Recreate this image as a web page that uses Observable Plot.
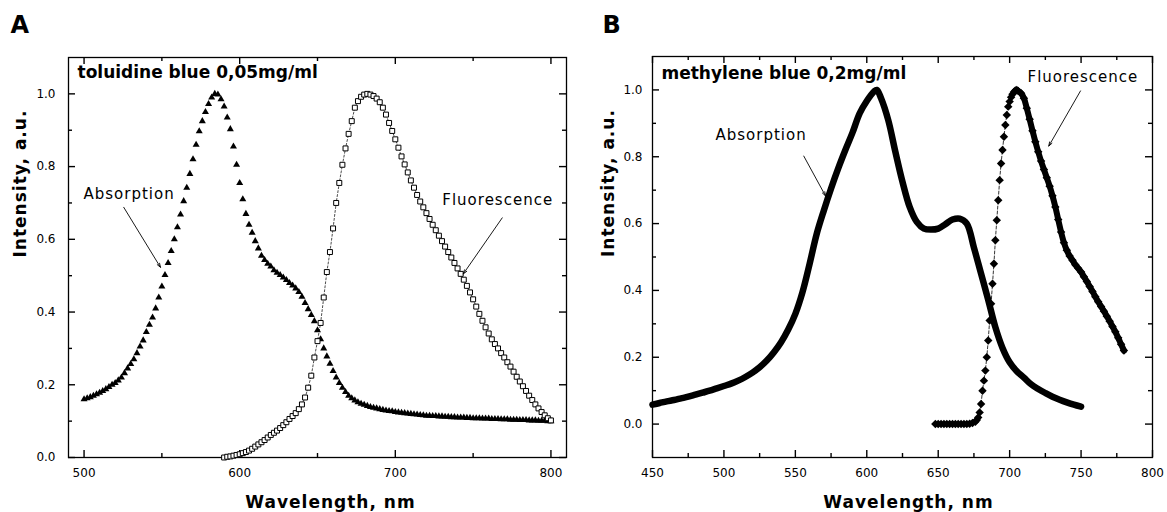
<!DOCTYPE html>
<html><head><meta charset="utf-8">
<script src="https://cdn.jsdelivr.net/npm/d3@7"></script>
<script src="https://cdn.jsdelivr.net/npm/@observablehq/plot@0.6"></script>
<style>
body{margin:0;background:#fff;}
#wrap{position:relative;width:1167px;height:512px;overflow:hidden;background:#fff;}
#pa{position:absolute;left:0;top:0;}
#pb{position:absolute;left:580px;top:0;}
</style></head><body>
<div id="wrap"><div id="pa"></div><div id="pb"></div></div>
<script>
// ---------- Panel A: toluidine blue ----------
const absA_nm = d3.range(500, 801, 2);
const absA = [
0.160,0.163,0.166,0.170,0.174,0.178,0.183,0.188,0.194,0.200,
0.205,0.212,0.220,0.232,0.245,0.257,0.270,0.287,0.305,0.322,
0.345,0.365,0.385,0.410,0.440,0.470,0.502,0.535,0.568,0.600,
0.633,0.668,0.705,0.742,0.780,0.820,0.860,0.897,0.925,0.950,
0.972,0.990,1.000,0.998,0.985,0.965,0.935,0.903,0.855,0.805,
0.755,0.710,0.670,0.640,0.618,0.595,0.575,0.555,0.543,0.533,
0.525,0.515,0.508,0.502,0.495,0.488,0.480,0.473,0.465,0.455,
0.442,0.425,0.408,0.392,0.375,0.350,0.325,0.300,0.278,0.258,
0.238,0.220,0.205,0.192,0.180,0.170,0.163,0.157,0.152,0.148,
0.145,0.142,0.139,0.137,0.135,0.133,0.131,0.129,0.128,0.127,
0.125,0.124,0.123,0.122,0.121,0.120,0.119,0.118,0.117,0.116,
0.115,0.115,0.114,0.114,0.113,0.113,0.112,0.112,0.111,0.111,
0.110,0.110,0.110,0.109,0.109,0.108,0.108,0.108,0.107,0.107,
0.107,0.106,0.106,0.106,0.105,0.105,0.105,0.104,0.104,0.104,
0.103,0.103,0.103,0.102,0.102,0.102,0.101,0.101,0.101,0.100,
0.100];
const fluA_nm = d3.range(590, 801, 2);
const fluA = [
0.000,0.002,0.003,0.005,0.007,0.009,0.012,0.015,0.019,0.024,
0.030,0.036,0.042,0.048,0.055,0.062,0.068,0.074,0.081,0.089,
0.097,0.106,0.114,0.122,0.133,0.146,0.165,0.192,0.225,0.275,
0.320,0.370,0.440,0.510,0.565,0.630,0.700,0.755,0.805,0.850,
0.890,0.925,0.962,0.980,0.992,0.998,1.000,0.998,0.994,0.987,
0.977,0.962,0.943,0.920,0.898,0.875,0.852,0.828,0.806,0.784,
0.762,0.742,0.722,0.704,0.688,0.672,0.656,0.640,0.625,0.610,
0.595,0.580,0.565,0.550,0.535,0.520,0.505,0.489,0.472,0.454,
0.435,0.415,0.395,0.376,0.358,0.341,0.325,0.312,0.300,0.287,
0.275,0.262,0.250,0.236,0.222,0.209,0.196,0.183,0.170,0.158,
0.146,0.135,0.125,0.116,0.108,
0.102];

// ---------- Panel B: methylene blue ----------
const absB = [
[450,0.058],[455,0.063],[460,0.068],[465,0.072],[470,0.077],[475,0.082],[480,0.088],[485,0.094],
[490,0.100],[495,0.107],[500,0.114],[505,0.121],[510,0.130],[515,0.141],[520,0.154],[525,0.170],
[530,0.190],[535,0.215],[540,0.245],[545,0.283],[550,0.330],[555,0.395],[560,0.480],[565,0.570],
[570,0.640],[575,0.705],[580,0.765],[585,0.820],[590,0.872],[595,0.930],[600,0.967],[605,0.995],
[607,1.000],[610,0.975],[615,0.910],[620,0.815],[625,0.725],[630,0.650],[635,0.605],[640,0.585],
[645,0.582],[650,0.585],[655,0.598],[660,0.612],[665,0.615],[670,0.600],[675,0.528],[680,0.450],
[685,0.372],[690,0.290],[695,0.228],[700,0.185],[705,0.158],[710,0.139],[715,0.119],[720,0.105],
[725,0.093],[730,0.082],[735,0.073],[740,0.065],[745,0.058],[750,0.052]];
const fluB = [
[648,0],[650,0],[652,0],[654,0],[656,0],[658,0],[660,0],[662,0],[664,0],[666,0],[668,0],[670,0],
[672,0.001],[674,0.003],[676,0.007],[677,0.012],[678,0.020],[679,0.035],[680,0.060],[681,0.100],
[682,0.130],[683,0.160],[684,0.200],[685,0.250],[686,0.310],[687,0.360],[688,0.420],[689,0.480],
[690,0.550],[691,0.610],[692,0.670],[693,0.730],[694,0.780],[695,0.820],[696,0.860],[697,0.895],
[698,0.925],[699,0.950],[700,0.965],[701,0.978],[702,0.987],[703,0.994],[704,0.998],[705,1.000],
[706,0.997],[708,0.990],[710,0.975],[712,0.945],[714,0.912],[716,0.878],[718,0.845],[720,0.815],
[722,0.787],[724,0.762],[726,0.737],[728,0.712],[730,0.683],[732,0.650],[734,0.612],[736,0.575],
[738,0.543],[740,0.520],[742,0.503],[744,0.490],[746,0.477],[748,0.466],[750,0.455],[752,0.441],
[754,0.427],[756,0.412],[758,0.397],[760,0.381],[762,0.366],[764,0.352],[766,0.338],[768,0.323],
[770,0.308],[772,0.292],[774,0.276],[776,0.258],[778,0.239],[780,0.220]];

// ---------- ticks & text ----------
const xMajA = [500,600,700,800], xMinA = [550,650,750];
const xMajB = [450,500,550,600,650,700,750,800], xMinB = [475,525,575,625,675,725,775];
const yMaj = [0,0.2,0.4,0.6,0.8,1.0], yMin = [0.1,0.3,0.5,0.7,0.9];
const titleA = "toluidine blue 0,05mg/ml", titleB = "methylene blue 0,2mg/ml";
const xLabel = "Wavelength, nm", yLabel = "Intensity, a.u.";
const notesA = [{x:499.6, y:0.724, t:"Absorption"}, {x:730.2, y:0.707, t:"Fluorescence"}];
const arrowsA = [{x1:525.5, y1:0.688, x2:549.1, y2:0.523}, {x1:768.7, y1:0.659, x2:743.7, y2:0.505}];
const notesB = [{x:494.1, y:0.866, t:"Absorption"}, {x:712.5, y:1.037, t:"Fluorescence"}];
const arrowsB = [{x1:555.9, y1:0.802, x2:571.1, y2:0.683}, {x1:749.6, y1:0.997, x2:727.4, y2:0.832}];

const FONT = "DejaVu Sans, Verdana, sans-serif";

function frameAxes(xMaj, xMin, yPad, fw, fh) {
  const s = {stroke: "black", strokeWidth: 1.4};
  const id = d => d;
  const MJ = 7, MN = 4;
  return [
    Plot.frame({stroke: "black", strokeWidth: 1.3}),
    Plot.tickX(xMaj, {...s, x: id, insetTop: fh - MJ}),
    Plot.tickX(xMin, {...s, x: id, insetTop: fh - MN}),
    Plot.tickX(xMaj, {...s, x: id, insetBottom: fh - MJ}),
    Plot.tickX(xMin, {...s, x: id, insetBottom: fh - MN}),
    Plot.tickY(yMaj, {...s, y: id, insetRight: fw - MJ}),
    Plot.tickY(yMin, {...s, y: id, insetRight: fw - MN}),
    Plot.tickY(yMaj, {...s, y: id, insetLeft: fw - MJ}),
    Plot.tickY(yMin, {...s, y: id, insetLeft: fw - MN}),
    Plot.axisX({ticks: xMaj, anchor: "bottom", tickSize: 0, tickPadding: 11, label: null, tickFormat: d => String(d), fill: "black"}),
    Plot.axisY({ticks: yMaj, anchor: "left", tickSize: 0, tickPadding: yPad, label: null, tickFormat: d3.format(".1f"), fill: "black"})
  ];
}

function labels(letter, title, ldx, ldy, tdy, xdx, ydx, xfs) {
  const id = d => d;
  return [
    Plot.text([letter], {text: id, frameAnchor: "top-left", textAnchor: "start", lineAnchor: "top", dx: ldx, dy: ldy, fontSize: 24, fontWeight: "bold", fill: "black"}),
    Plot.text([title], {text: id, frameAnchor: "top-left", textAnchor: "start", lineAnchor: "top", dx: 9, dy: tdy, fontSize: 17, fontWeight: "bold", fill: "black"}),
    Plot.text([xLabel], {text: id, frameAnchor: "bottom", lineAnchor: "top", dy: 38, dx: xdx, fontSize: xfs, fontWeight: "bold", fill: "black"}),
    Plot.text([yLabel], {text: id, frameAnchor: "left", rotate: -90, dx: ydx, fontSize: 17, fontWeight: "bold", fill: "black"})
  ];
}

function notes(nt, ar) {
  return [
    Plot.arrow(ar, {x1: "x1", y1: "y1", x2: "x2", y2: "y2", stroke: "black", strokeWidth: 0.9, headLength: 7, headAngle: 38}),
    Plot.text(nt, {x: "x", y: "y", text: "t", textAnchor: "start", fontSize: 15, fill: "black"})
  ];
}

function spacing(svg) {
  d3.select(svg).selectAll("text").each(function() {
    const t = this.textContent;
    if (/Absorption|Fluorescence|Wavelength|Intensity/.test(t)) this.style.letterSpacing = "1px";
  });
  return svg;
}

const dataA = absA_nm.map((x, i) => ({x, y: absA[i]}));
const dataFA = fluA_nm.map((x, i) => ({x, y: fluA[i]}));

const plotA = Plot.plot({
  width: 580, height: 512,
  marginLeft: 68, marginRight: 14, marginTop: 57, marginBottom: 55,
  style: {fontFamily: FONT, fontSize: "12px", color: "black", background: "white", overflow: "visible"},
  x: {domain: [490, 810]},
  y: {domain: [0, 1.1]},
  marks: [
    ...frameAxes(xMajA, xMinA, 13, 498, 400),
    Plot.dot(dataA, {x: "x", y: "y", symbol: "triangle", r: 2.6, fill: "black", stroke: "none"}),
    Plot.line(dataFA, {x: "x", y: "y", stroke: "black", strokeWidth: 0.7, strokeDasharray: "2,2"}),
    Plot.dot(dataFA, {x: "x", y: "y", symbol: "square", r: 2.8, fill: "white", stroke: "black", strokeWidth: 1}),
    ...notes(notesA, arrowsA),
    ...labels("A", titleA, -58, -42, 8, 13, -48, 17)
  ]
});
document.getElementById("pa").appendChild(spacing(plotA));

const plotB = Plot.plot({
  width: 587, height: 512,
  marginLeft: 72, marginRight: 15, marginTop: 56, marginBottom: 55,
  style: {fontFamily: FONT, fontSize: "12px", color: "black", background: "white", overflow: "visible"},
  x: {domain: [450, 800]},
  y: {domain: [-0.1, 1.1]},
  marks: [
    ...frameAxes(xMajB, xMinB, 10, 500, 401),
    Plot.line(absB, {x: d => d[0], y: d => d[1], stroke: "black", strokeWidth: 6.5, curve: "catmull-rom", strokeLinecap: "round", strokeLinejoin: "round"}),
    Plot.line(fluB, {x: d => d[0], y: d => d[1], stroke: "black", strokeWidth: 0.8, strokeDasharray: "3,2"}),
    Plot.line(fluB, {filter: d => d[0] >= 704, x: d => d[0], y: d => d[1], stroke: "black", strokeWidth: 6, curve: "catmull-rom", strokeLinecap: "round"}),
    Plot.dot(fluB, {x: d => d[0], y: d => d[1], symbol: "diamond2", r: 3.8, fill: "black", stroke: "none"}),
    ...notes(notesB, arrowsB),
    ...labels("B", titleB, -50, -41, 10, 6, -44, 17)
  ]
});
document.getElementById("pb").appendChild(spacing(plotB));
</script></body></html>
